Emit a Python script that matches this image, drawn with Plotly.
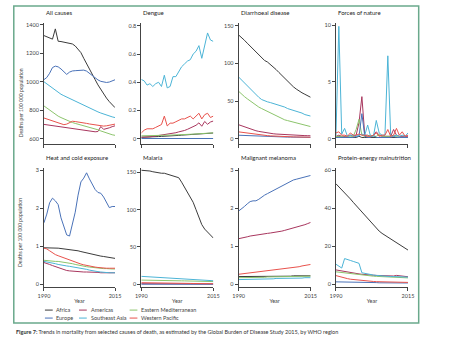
import plotly.graph_objects as go

W, H = 450, 340
FONT = "Lato"

years = list(range(1990, 2016))
regions = ["Africa", "Americas", "Eastern Mediterranean", "Europe", "Southeast Asia", "Western Pacific"]
region_colors = ["#3b3b3b", "#a8365e", "#8cc46c", "#4a72b8", "#4cb4d6", "#e8524c"]

# ---- All causes (deaths per 100 000) ----
all_afr = [1325, 1315, 1308, 1300, 1372, 1285, 1283, 1280, 1276, 1272, 1266, 1252, 1232, 1205, 1165, 1130,
           1095, 1055, 1015, 978, 945, 910, 885, 860, 838, 818]
all_amr = [700, 697, 694, 690, 686, 683, 680, 677, 674, 671, 668, 665, 662, 660, 657, 655, 652, 650, 648, 650,
           685, 665, 668, 676, 684, 690]
all_emr = [830, 815, 798, 782, 770, 758, 748, 738, 728, 720, 713, 707, 702, 697, 692, 687, 682, 676, 669, 662,
           654, 646, 639, 632, 627, 623]
all_eur = [1015, 1030, 1060, 1100, 1110, 1105, 1090, 1068, 1052, 1068, 1076, 1078, 1080, 1080, 1082, 1075,
           1060, 1040, 1025, 1013, 1003, 997, 995, 998, 1005, 1014]
all_sear = [1000, 985, 968, 952, 938, 925, 912, 902, 892, 882, 872, 862, 853, 845, 836, 826, 816, 806, 797, 788,
            780, 772, 765, 759, 753, 748]
all_wpr = [745, 738, 730, 722, 715, 708, 702, 698, 702, 712, 722, 720, 718, 715, 711, 707, 703, 699, 696, 693,
           690, 688, 690, 694, 698, 702]

# ---- Dengue ----
den_afr = [0.010, 0.010, 0.011, 0.012, 0.012, 0.014, 0.015, 0.016, 0.018, 0.018, 0.020, 0.021, 0.022, 0.023,
           0.025, 0.026, 0.027, 0.029, 0.030, 0.031, 0.033, 0.034, 0.035, 0.037, 0.038, 0.040]
den_amr = [0.010, 0.010, 0.011, 0.013, 0.016, 0.019, 0.020, 0.022, 0.026, 0.028, 0.032, 0.036, 0.042, 0.048,
           0.052, 0.058, 0.066, 0.074, 0.083, 0.095, 0.112, 0.088, 0.122, 0.102, 0.118, 0.125]
den_emr = [0.020, 0.020, 0.021, 0.021, 0.022, 0.022, 0.023, 0.023, 0.024, 0.024, 0.025, 0.026, 0.026, 0.027,
           0.028, 0.029, 0.030, 0.031, 0.032, 0.033, 0.034, 0.035, 0.036, 0.037, 0.039, 0.041]
den_eur = [0.001, 0.001, 0.001, 0.001, 0.001, 0.001, 0.001, 0.001, 0.001, 0.001, 0.001, 0.001, 0.001, 0.001,
           0.001, 0.001, 0.001, 0.001, 0.001, 0.001, 0.001, 0.001, 0.001, 0.001, 0.001, 0.001]
den_sear = [0.42, 0.41, 0.38, 0.39, 0.37, 0.39, 0.40, 0.37, 0.45, 0.36, 0.37, 0.44, 0.44, 0.48, 0.51, 0.53,
            0.55, 0.56, 0.60, 0.62, 0.66, 0.57, 0.65, 0.75, 0.70, 0.69]
den_wpr = [0.04, 0.06, 0.07, 0.07, 0.07, 0.08, 0.09, 0.10, 0.16, 0.09, 0.11, 0.11, 0.12, 0.13, 0.14, 0.14,
           0.15, 0.16, 0.14, 0.16, 0.18, 0.14, 0.17, 0.18, 0.15, 0.16]

# ---- Diarrhoeal disease ----
dia_afr = [138, 135, 131, 127, 123, 119, 115, 111, 107, 104, 102, 99, 96, 92, 88, 84, 80, 76, 72, 69, 66, 63,
           61, 59, 57, 55]
dia_amr = [18.5, 17, 15.5, 14, 12.8, 11.6, 10.5, 9.6, 8.8, 8.1, 7.5, 7.0, 6.5, 6.1, 5.8, 5.5, 5.2, 5.0, 4.8,
           4.6, 4.4, 4.3, 4.1, 4.0, 3.9, 3.8]
dia_emr = [63, 59, 56, 53, 50, 47, 44, 42, 40, 38, 36, 34, 32, 30, 28, 27, 25, 24, 23, 22, 21, 20, 19, 18, 17, 16]
dia_eur = [4.5, 4.3, 4.1, 3.9, 3.7, 3.5, 3.3, 3.1, 2.9, 2.8, 2.7, 2.6, 2.5, 2.4, 2.3, 2.2, 2.1, 2.0, 2.0, 1.9,
           1.9, 1.8, 1.8, 1.7, 1.7, 1.7]
dia_sear = [82, 78, 74, 70, 66, 62, 58, 55, 52, 50, 49, 48, 47, 46, 45, 44, 42, 40, 39, 38, 36, 35, 34, 32, 31, 30]
dia_wpr = [9.0, 8.4, 7.8, 7.2, 6.6, 6.1, 5.6, 5.1, 4.7, 4.3, 4.0, 3.7, 3.4, 3.2, 3.0, 2.8, 2.6, 2.5, 2.4, 2.3,
           2.2, 2.1, 2.0, 2.0, 1.9, 1.9]

# ---- Forces of nature ----
fon_afr = [0.1, 0.2, 0.1, 0.1, 0.1, 0.1, 0.1, 0.1, 0.2, 0.1, 0.1, 0.1, 0.1, 0.1, 0.1, 0.1, 0.1, 0.1, 0.1, 0.1,
           0.1, 0.1, 0.1, 0.1, 0.1, 0.1]
fon_amr = [0.2, 0.3, 0.2, 0.2, 0.2, 0.3, 0.2, 0.3, 1.4, 3.7, 0.3, 0.3, 0.2, 0.3, 0.6, 0.3, 0.2, 0.2, 0.2, 0.2,
           0.8, 0.3, 0.2, 0.2, 0.2, 0.2]
fon_emr = [0.2, 0.2, 0.2, 0.1, 0.2, 0.2, 0.2, 0.8, 1.7, 0.3, 0.2, 0.2, 0.3, 0.2, 0.2, 0.4, 0.2, 0.2, 0.2, 0.2,
           0.3, 0.2, 0.1, 0.1, 0.1, 0.1]
fon_eur = [0.1, 0.1, 0.1, 0.1, 0.1, 0.1, 0.1, 0.2, 0.2, 2.2, 0.2, 0.1, 0.1, 0.3, 0.1, 0.1, 0.1, 0.1, 0.1, 0.1,
           0.2, 0.1, 0.1, 0.1, 0.1, 0.1]
fon_sear = [0.3, 9.9, 0.4, 0.9, 0.2, 0.3, 0.3, 0.2, 0.3, 0.4, 0.3, 1.2, 0.2, 0.2, 1.6, 0.5, 0.3, 0.3, 7.3, 0.3,
            0.2, 0.3, 0.2, 0.3, 0.2, 0.5]
fon_wpr = [0.5, 0.6, 0.3, 0.3, 0.2, 0.5, 0.3, 0.3, 0.4, 0.3, 0.3, 0.2, 0.2, 0.3, 0.5, 0.2, 0.3, 0.3, 0.8, 0.2,
           0.3, 0.9, 0.3, 0.6, 0.2, 0.3]

# ---- Heat and cold exposure ----
hce_afr = [0.96, 0.96, 0.96, 0.95, 0.95, 0.95, 0.94, 0.93, 0.93, 0.92, 0.91, 0.90, 0.88, 0.86, 0.84, 0.82,
           0.80, 0.79, 0.78, 0.76, 0.74, 0.73, 0.72, 0.70, 0.69, 0.68]
hce_amr = [0.57, 0.55, 0.52, 0.49, 0.46, 0.43, 0.40, 0.38, 0.36, 0.35, 0.34, 0.33, 0.33, 0.33, 0.32, 0.32,
           0.32, 0.31, 0.31, 0.31, 0.30, 0.30, 0.30, 0.30, 0.30, 0.30]
hce_emr = [0.63, 0.62, 0.62, 0.61, 0.60, 0.60, 0.59, 0.58, 0.57, 0.56, 0.54, 0.52, 0.50, 0.48, 0.47, 0.46,
           0.45, 0.44, 0.43, 0.42, 0.42, 0.41, 0.41, 0.40, 0.40, 0.40]
hce_eur = [1.62, 1.85, 2.15, 2.27, 2.20, 2.10, 1.75, 1.50, 1.30, 1.27, 1.55, 1.90, 2.35, 2.70, 2.80, 2.94,
           2.78, 2.62, 2.50, 2.42, 2.40, 2.30, 2.15, 2.02, 2.05, 2.05]
hce_sear = [0.60, 0.59, 0.58, 0.56, 0.54, 0.52, 0.50, 0.49, 0.48, 0.47, 0.46, 0.45, 0.44, 0.42, 0.41, 0.39,
            0.37, 0.35, 0.34, 0.33, 0.32, 0.31, 0.31, 0.30, 0.30, 0.30]
hce_wpr = [0.95, 0.93, 0.88, 0.82, 0.78, 0.75, 0.72, 0.69, 0.66, 0.63, 0.61, 0.58, 0.56, 0.53, 0.51, 0.49,
           0.47, 0.46, 0.45, 0.44, 0.43, 0.43, 0.42, 0.42, 0.42, 0.42]

# ---- Malaria ----
mal_afr = [153, 153, 152, 152, 151, 150, 150, 149, 149, 148, 147, 146, 145, 143, 137, 130, 122, 116, 110, 100,
           90, 80, 74, 70, 66, 62]
mal_amr = [0.6, 0.6, 0.5, 0.5, 0.5, 0.5, 0.4, 0.4, 0.4, 0.4, 0.3, 0.3, 0.3, 0.3, 0.3, 0.2, 0.2, 0.2, 0.2, 0.2,
           0.1, 0.1, 0.1, 0.1, 0.1, 0.1]
mal_emr = [5.5, 5.5, 5.4, 5.4, 5.3, 5.3, 5.2, 5.2, 5.1, 5.0, 4.9, 4.8, 4.7, 4.6, 4.5, 4.4, 4.3, 4.2, 4.1, 4.0,
           3.9, 3.8, 3.7, 3.6, 3.5, 3.5]
mal_eur = [0.0, 0.0, 0.0, 0.0, 0.0, 0.0, 0.0, 0.0, 0.0, 0.0, 0.0, 0.0, 0.0, 0.0, 0.0, 0.0, 0.0, 0.0, 0.0, 0.0,
           0.0, 0.0, 0.0, 0.0, 0.0, 0.0]
mal_sear = [10.5, 10.3, 10.1, 9.9, 9.7, 9.5, 9.3, 9.1, 8.9, 8.7, 8.5, 8.3, 8.1, 7.9, 7.7, 7.4, 7.1, 6.8, 6.5,
            6.2, 5.9, 5.6, 5.3, 5.0, 4.8, 4.6]
mal_wpr = [2.0, 2.0, 1.9, 1.9, 1.8, 1.8, 1.7, 1.7, 1.6, 1.5, 1.5, 1.4, 1.3, 1.3, 1.2, 1.1, 1.1, 1.0, 0.9, 0.9,
           0.8, 0.8, 0.7, 0.7, 0.6, 0.6]

# ---- Malignant melanoma ----
mel_afr = [0.20, 0.20, 0.20, 0.20, 0.20, 0.20, 0.20, 0.20, 0.20, 0.21, 0.21, 0.21, 0.21, 0.21, 0.21, 0.21,
           0.21, 0.21, 0.21, 0.22, 0.22, 0.22, 0.22, 0.22, 0.22, 0.22]
mel_amr = [1.20, 1.21, 1.23, 1.25, 1.27, 1.28, 1.28, 1.30, 1.32, 1.33, 1.34, 1.35, 1.36, 1.37, 1.38, 1.40,
           1.42, 1.44, 1.46, 1.48, 1.50, 1.52, 1.54, 1.57, 1.60, 1.63]
mel_emr = [0.17, 0.17, 0.17, 0.17, 0.18, 0.18, 0.18, 0.18, 0.18, 0.18, 0.19, 0.19, 0.19, 0.19, 0.19, 0.19,
           0.20, 0.20, 0.20, 0.20, 0.20, 0.20, 0.21, 0.21, 0.21, 0.21]
mel_eur = [1.93, 1.98, 2.05, 2.12, 2.18, 2.20, 2.20, 2.24, 2.30, 2.35, 2.39, 2.43, 2.47, 2.51, 2.55, 2.60,
           2.64, 2.68, 2.72, 2.75, 2.77, 2.79, 2.81, 2.83, 2.85, 2.87]
mel_sear = [0.12, 0.12, 0.12, 0.12, 0.13, 0.13, 0.13, 0.13, 0.13, 0.14, 0.14, 0.14, 0.14, 0.15, 0.15, 0.15,
            0.15, 0.15, 0.16, 0.16, 0.16, 0.16, 0.16, 0.17, 0.17, 0.17]
mel_wpr = [0.26, 0.27, 0.28, 0.29, 0.30, 0.30, 0.31, 0.31, 0.32, 0.33, 0.34, 0.35, 0.36, 0.37, 0.38, 0.39,
           0.40, 0.41, 0.42, 0.43, 0.45, 0.46, 0.48, 0.49, 0.50, 0.52]

# ---- Protein-energy malnutrition ----
pem_afr = [53, 51.5, 50, 48.5, 46.8, 45, 43.2, 41.5, 39.8, 38.2, 36.5, 34.7, 33, 31.2, 29.5, 28, 26.8, 25.8,
           24.8, 23.8, 22.8, 21.8, 20.8, 19.8, 18.9, 18]
pem_amr = [7.5, 7.2, 6.9, 6.6, 6.3, 6.0, 5.8, 5.6, 5.4, 5.2, 5.0, 4.9, 4.8, 4.7, 4.6, 4.5, 4.4, 4.3, 4.2, 4.2,
           4.3, 4.6, 4.4, 4.2, 4.0, 3.9]
pem_emr = [6.5, 6.3, 6.1, 5.9, 5.7, 5.5, 5.3, 5.1, 4.9, 4.8, 4.6, 4.5, 4.3, 4.2, 4.1, 4.0, 3.9, 3.8, 3.7, 3.6,
           3.6, 3.5, 3.5, 3.4, 3.4, 3.3]
pem_eur = [1.2, 1.2, 1.1, 1.1, 1.1, 1.0, 1.0, 1.0, 0.9, 0.9, 0.9, 0.8, 0.8, 0.8, 0.8, 0.7, 0.7, 0.7, 0.7, 0.7,
           0.6, 0.6, 0.6, 0.6, 0.6, 0.6]
pem_sear = [10.5, 9.5, 8.5, 13.5, 13.2, 12.5, 12.0, 11.5, 11.0, 6.0, 5.6, 5.3, 5.0, 4.8, 4.6, 4.4, 4.3, 4.2,
            4.1, 4.0, 4.0, 3.9, 3.9, 3.8, 3.8, 3.7]
pem_wpr = [4.5, 4.0, 3.6, 3.2, 2.9, 2.6, 2.4, 2.2, 2.0, 1.8, 1.7, 1.6, 1.5, 1.4, 1.3, 1.3, 1.2, 1.2, 1.1, 1.1,
           1.0, 1.0, 1.0, 1.0, 0.9, 0.9]

panel_titles = ["All causes", "Dengue", "Diarrhoeal disease", "Forces of nature",
                "Heat and cold exposure", "Malaria", "Malignant melanoma", "Protein-energy malnutrition"]
panel_series = [
    [all_afr, all_amr, all_emr, all_eur, all_sear, all_wpr],
    [den_afr, den_amr, den_emr, den_eur, den_sear, den_wpr],
    [dia_afr, dia_amr, dia_emr, dia_eur, dia_sear, dia_wpr],
    [fon_afr, fon_amr, fon_emr, fon_eur, fon_sear, fon_wpr],
    [hce_afr, hce_amr, hce_emr, hce_eur, hce_sear, hce_wpr],
    [mal_afr, mal_amr, mal_emr, mal_eur, mal_sear, mal_wpr],
    [mel_afr, mel_amr, mel_emr, mel_eur, mel_sear, mel_wpr],
    [pem_afr, pem_amr, pem_emr, pem_eur, pem_sear, pem_wpr],
]
panel_ticks = [[600, 800, 1000, 1200, 1400], [0, 0.2, 0.4, 0.6, 0.8], [0, 50, 100, 150], [0, 5, 10],
               [0, 1, 2, 3], [0, 50, 100, 150], [0, 1, 2, 3], [0, 20, 40, 60]]
panel_ranges = [[565, 1414], [-0.035, 0.821], [-6.6, 154], [-0.44, 10.2],
                [-0.08, 3.08], [-4.0, 156.7], [-0.08, 3.08], [-1.6, 61.6]]
year_ticks = [1990, 2015]
year_ticktext = ["1990", "2015"]


def px(x):
    return x / W


def py(y):
    return 1 - y / H


# panel boxes in pixels: columns (left, right) and rows (top, bottom)
col_px = [(39, 112), (139, 213), (239, 313), (339, 413)]
row_px = [(22, 143), (167, 287)]
title_y_px = [12, 157]
ytitle_y_px = [102, 232]

fig = go.Figure()
layout = dict(
    width=W, height=H,
    margin=dict(l=0, r=0, t=0, b=0),
    paper_bgcolor="white", plot_bgcolor="white",
    showlegend=False,
    font=dict(family=FONT, size=6, color="#333"),
)
annotations = []
shapes = []

for i in range(8):
    r, c = divmod(i, 4)
    n = "" if i == 0 else str(i + 1)
    for k, vals in enumerate(panel_series[i]):
        fig.add_trace(go.Scatter(
            x=years, y=vals, mode="lines", name=regions[k],
            line=dict(color=region_colors[k], width=1),
            xaxis="x" + n, yaxis="y" + n, hoverinfo="skip",
        ))
    x0, x1 = col_px[c]
    top, bot = row_px[r]
    layout["xaxis" + n] = dict(
        domain=[px(x0), px(x1)], range=[1990, 2015], anchor="y" + n,
        showline=True, linecolor="#444", linewidth=1, mirror=False,
        showgrid=False, zeroline=False,
        ticks="outside", ticklen=3, tickwidth=1, tickcolor="#444",
        tickvals=year_ticks, ticktext=year_ticktext,
        showticklabels=(r == 1), tickfont=dict(size=5.5, color="#444"),
        title=dict(text="Year" if r == 1 else "", font=dict(size=5.5, color="#444"), standoff=1),
    )
    layout["yaxis" + n] = dict(
        domain=[py(bot), py(top)], range=panel_ranges[i], anchor="x" + n,
        showline=True, linecolor="#444", linewidth=1,
        showgrid=False, zeroline=False,
        ticks="outside", ticklen=3, tickwidth=1, tickcolor="#444",
        tickvals=panel_ticks[i], tickfont=dict(size=5.5, color="#444"),
    )
    annotations.append(dict(
        text=panel_titles[i], x=px(x0), y=py(title_y_px[r]), xref="paper", yref="paper",
        xanchor="left", yanchor="middle", showarrow=False,
        font=dict(size=6, color="#222"),
    ))

for r in range(2):
    annotations.append(dict(
        text="Deaths per 100 000 population", textangle=-90,
        x=px(15), y=py(ytitle_y_px[r]), xref="paper", yref="paper",
        xanchor="center", yanchor="middle", showarrow=False,
        font=dict(size=5, color="#444"),
    ))

# legend: two rows of three regions
leg_cols = [(40, 48, 49.5), (75, 83, 85), (127, 135, 137)]
leg_rows = [310, 318]
for k, name in enumerate(regions):
    rr, cc = divmod(k, 3)
    lx0, lx1, tx = leg_cols[cc]
    yy = leg_rows[rr]
    shapes.append(dict(type="line", xref="paper", yref="paper",
                       x0=px(lx0), x1=px(lx1), y0=py(yy), y1=py(yy),
                       line=dict(color=region_colors[k], width=1)))
    annotations.append(dict(
        text=name, x=px(tx), y=py(yy), xref="paper", yref="paper",
        xanchor="left", yanchor="middle", showarrow=False,
        font=dict(size=5.5, color="#444"),
    ))

# figure frame
shapes.append(dict(type="rect", xref="paper", yref="paper",
                   x0=px(8), x1=px(424), y0=py(323), y1=py(5),
                   line=dict(color="#6aa98c", width=1.5)))

annotations.append(dict(
    text="<b>Figure 7:</b> Trends in mortality from selected causes of death, as estimated by the Global Burden "
         "of Disease Study 2015, by WHO region",
    x=px(8), y=py(332), xref="paper", yref="paper", xanchor="left", yanchor="middle",
    showarrow=False, font=dict(size=5.5, color="#333"),
))

layout["annotations"] = annotations
layout["shapes"] = shapes
fig.update_layout(**layout)
fig.write_html("out.html")
